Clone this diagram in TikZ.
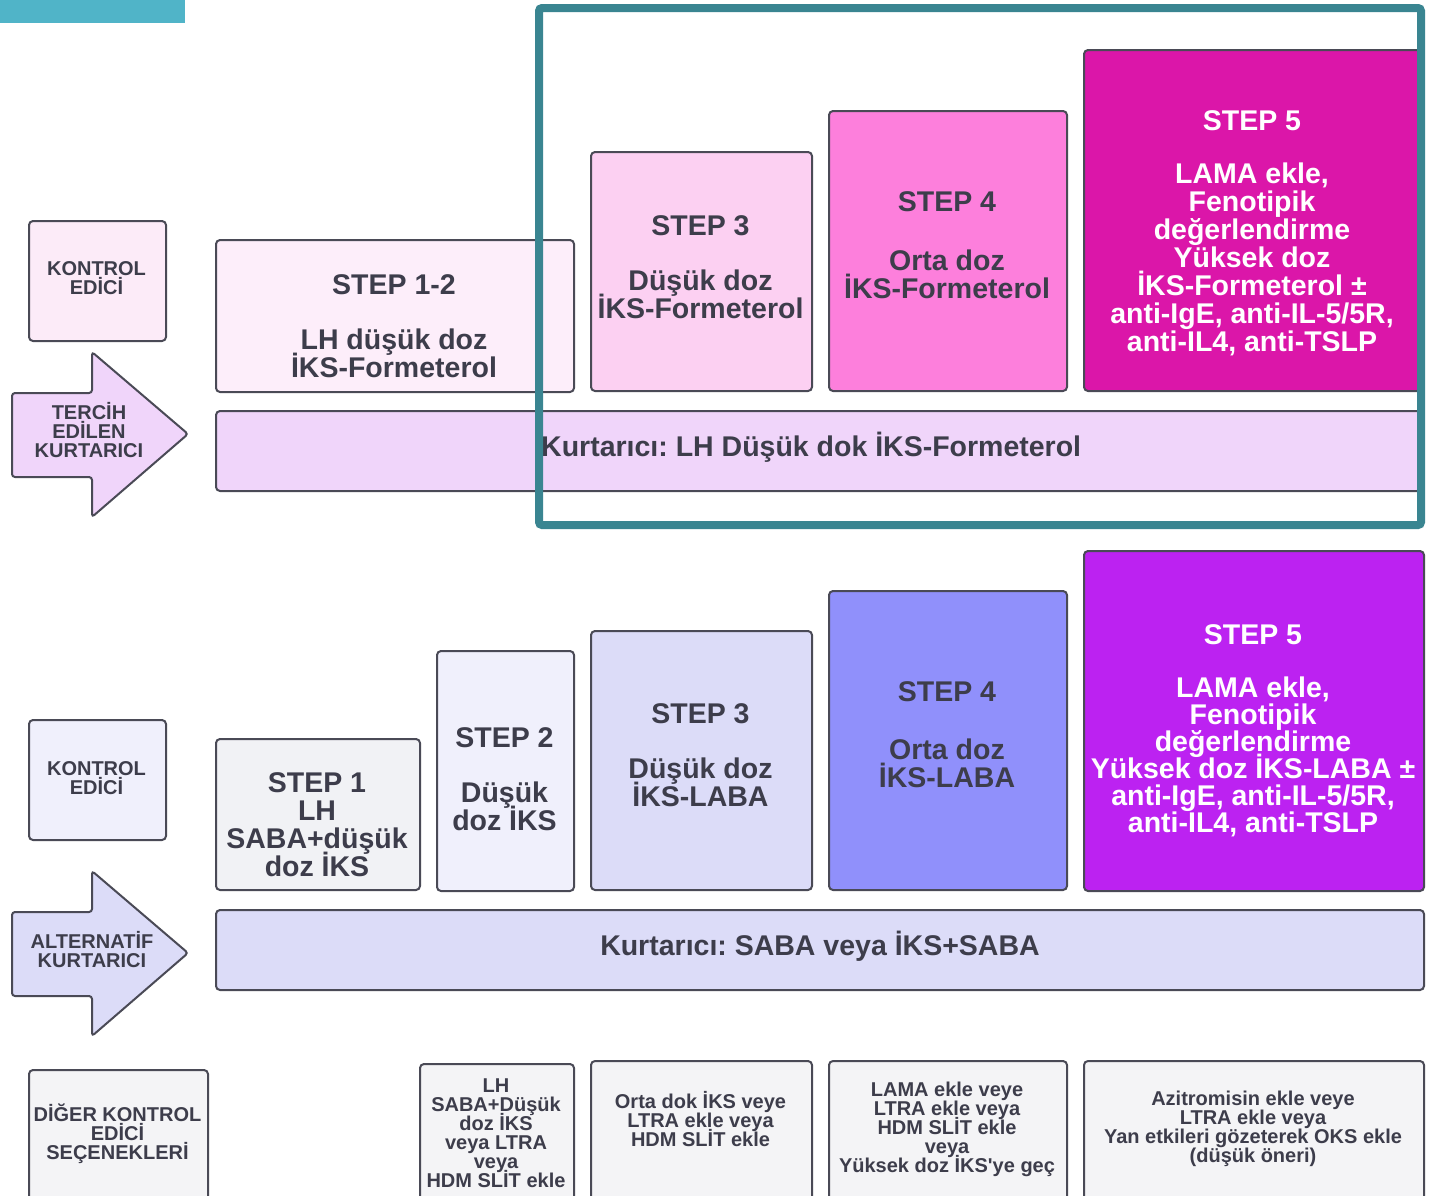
\documentclass[tikz,border=0pt]{standalone}
\usepackage{fontspec}
\setmainfont{Liberation Sans}
\newfontfamily\apfont{Liberation Sans}
\definecolor{bordc}{HTML}{4A4A56}
\definecolor{txtc}{HTML}{3D3D4B}
\definecolor{tealA}{HTML}{50B4C8}
\definecolor{tealB}{HTML}{3A8591}
\definecolor{pkA}{HTML}{FCEBF8}
\definecolor{pkB}{HTML}{FDEEFA}
\definecolor{pkC}{HTML}{FCD0F2}
\definecolor{pkD}{HTML}{FD7FDC}
\definecolor{pkE}{HTML}{DB16A9}
\definecolor{pkF}{HTML}{F0D5FA}
\definecolor{lvA}{HTML}{F0F0FC}
\definecolor{lvB}{HTML}{F1F2F5}
\definecolor{lvC}{HTML}{DCDCF8}
\definecolor{lvD}{HTML}{9090FB}
\definecolor{lvE}{HTML}{BC22F1}
\definecolor{grA}{HTML}{F4F4F6}
\setlength{\lineskiplimit}{-60pt}
\frenchspacing
\begin{document}
\frenchspacing
\begin{tikzpicture}[x=1pt,y=-1pt,
  stepbox/.style={draw=bordc, line width=2pt, rounded corners=4pt, rectangle, inner sep=0pt, anchor=north west},
  arrowshape/.style={draw=bordc, line width=2pt, rounded corners=3pt},
  bigtxt/.style={font=\fontsize{28.5}{28}\selectfont\bfseries\frenchspacing, text=txtc, align=center, inner sep=0pt},
  bigtxtb/.style={font=\fontsize{28.5}{27}\selectfont\bfseries\frenchspacing, text=white, align=center, inner sep=0pt},
  smalltxt/.style={font=\fontsize{20}{19}\selectfont\bfseries\frenchspacing, text=txtc, align=center, inner sep=0pt},
  wtxt/.style={bigtxt, text=white}]
\useasboundingbox (0,0) rectangle (1440,1195);
\clip (0,0) rectangle (1440,1195);
\fill[white] (0,0) rectangle (1440,1195);

% teal corner bar
\fill[tealA] (0,0) rectangle (185,23);

% ---------- top section ----------
\node[stepbox, fill=pkA, minimum width=137pt, minimum height=120pt] (tk) at (28,220) {};
\node[smalltxt] (tkt) at (96.5,278.5) {KONTROL\\EDİCİ};

\node[stepbox, fill=pkB, minimum width=358pt, minimum height=152pt] (t12) at (215,239) {};
\node[bigtxt] (t12t) at (394,326) {STEP 1-2\\[27pt]LH düşük doz\\İKS-Formeterol};

\node[stepbox, fill=pkC, minimum width=221pt, minimum height=239pt] (t3) at (590,151) {};
\node[bigtxt] (t3t) at (700.5,267) {STEP 3\\[27pt]Düşük doz\\İKS-Formeterol};

\node[stepbox, fill=pkD, minimum width=238pt, minimum height=280pt] (t4) at (828,110) {};
\node[bigtxt] (t4t) at (947,245) {STEP 4\\[31pt]Orta doz\\İKS-Formeterol};

\node[stepbox, fill=pkE, minimum width=337pt, minimum height=341pt] (t5) at (1083,49) {};
\node[wtxt] (t5t) at (1252,233.5) {STEP 5\\[25pt]LAMA ekle,\\Fenotipik\\değerlendirme\\Yüksek doz\\İKS-Formeterol ±\\anti-IgE, anti-IL-5/5R,\\anti-IL4, anti-TSLP};

\node[stepbox, fill=pkF, minimum width=1205pt, minimum height=80pt] (tbar) at (215,410) {};
\node[bigtxt, anchor=west] (tbart) at (541,447) {Kurtarıcı: LH Düşük dok İKS-Formeterol};

\draw[arrowshape, fill=pkF] (12,393) -- (92,393) -- (92,352) -- (188,434) -- (92,517) -- (92,477) -- (12,477) -- cycle;
\node[smalltxt] (tarr) at (89,430) {TERCİH\\EDİLEN\\KURTARICI};

% teal frame
\draw[tealB, line width=8pt, rounded corners=3pt] (539,8) rectangle (1421,525);

% ---------- bottom section ----------
\node[stepbox, fill=lvA, minimum width=137pt, minimum height=120pt] (bk) at (28,719) {};
\node[smalltxt] (bkt) at (96.5,778.5) {KONTROL\\EDİCİ};

\node[stepbox, fill=lvB, minimum width=204pt, minimum height=151pt] (b1) at (215,738) {};
\node[bigtxt] (b1t) at (317,825) {STEP 1\\LH\\SABA+düşük\\doz İKS};

\node[stepbox, fill=lvA, minimum width=137pt, minimum height=240pt] (b2) at (436,650) {};
\node[bigtxt] (b2t) at (504.5,779) {STEP 2\\[27pt]Düşük\\doz İKS};

\node[stepbox, fill=lvC, minimum width=221pt, minimum height=259pt] (b3) at (590,630) {};
\node[bigtxt] (b3t) at (700.5,755.5) {STEP 3\\[27pt]Düşük doz\\İKS-LABA};

\node[stepbox, fill=lvD, minimum width=238pt, minimum height=299pt] (b4) at (828,590) {};
\node[bigtxt] (b4t) at (947,734.5) {STEP 4\\[30pt]Orta doz\\İKS-LABA};

\node[stepbox, fill=lvE, minimum width=340pt, minimum height=340pt] (b5) at (1083,550) {};
\node[bigtxtb] (b5t) at (1253,730.5) {STEP 5\\[26pt]LAMA ekle,\\Fenotipik\\değerlendirme\\Yüksek doz İKS-LABA ±\\anti-IgE, anti-IL-5/5R,\\anti-IL4, anti-TSLP};

\node[stepbox, fill=lvC, minimum width=1208pt, minimum height=80pt] (bbar) at (215,909) {};
\node[bigtxt] (bbart) at (820,946) {Kurtarıcı: SABA veya İKS+SABA};

\draw[arrowshape, fill=lvC] (12,912) -- (92,912) -- (92,871) -- (188,953) -- (92,1036) -- (92,996) -- (12,996) -- cycle;
\node[smalltxt] (barr) at (92,950) {ALTERNATİF\\KURTARICI};

% ---------- other controller options ----------
\node[stepbox, fill=grA, minimum width=179pt, minimum height=150pt] (o0) at (28,1069) {};
\node[smalltxt] (o0t) at (117.5,1134) {DİĞER KONTROL\\EDİCİ\\SEÇENEKLERİ};

\node[stepbox, fill=grA, minimum width=154pt, minimum height=150pt] (o1) at (419,1063) {};
\node[smalltxt] (o1t) at (496,1133) {LH\\SABA+Düşük\\doz İKS\\veya LTRA\\veya\\HDM SLİT ekle};

\node[stepbox, fill=grA, minimum width=221pt, minimum height=150pt] (o2) at (590,1060) {};
\node[smalltxt] (o2t) at (700.5,1119) {Orta dok İKS veye\\LTRA ekle veya\\HDM SLİT ekle};

\node[stepbox, fill=grA, minimum width=238pt, minimum height=150pt] (o3) at (828,1060) {};
\node[smalltxt] (o3t) at (947,1129) {LAMA ekle veye\\LTRA ekle veya\\HDM SLİT ekle\\veya\\Yüksek doz İKS{\apfont\bfseries '}ye geç};

\node[stepbox, fill=grA, minimum width=340pt, minimum height=150pt] (o4) at (1083,1060) {};
\node[smalltxt] (o4t) at (1253,1128.5) {Azitromisin ekle veye\\LTRA ekle veya\\Yan etkileri gözeterek OKS ekle\\(düşük öneri)};
\end{tikzpicture}
\end{document}
